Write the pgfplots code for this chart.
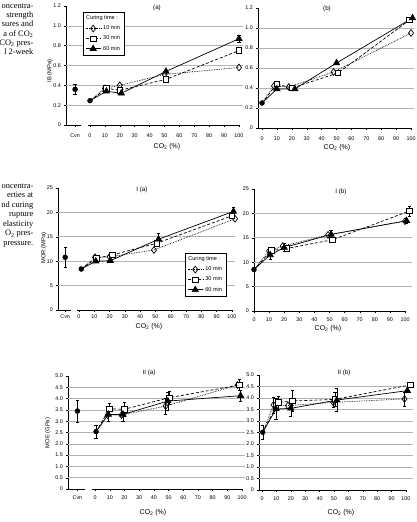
\documentclass[border=0pt]{standalone}
\usepackage{fontspec}
\setmainfont{Liberation Sans}
\newfontfamily\capfont{Liberation Serif}
\usepackage{pgfplots}
\pgfplotsset{compat=1.18}
\pgfplotsset{
  panel/.style={scale only axis, axis lines*=left, x axis line style={draw=none},
    y axis line style={line width=0.5pt}, clip=false,
    tick label style={font=\fontsize{5.4}{6}\selectfont},
    /pgf/number format/assume math mode=true,
    tick align=outside, major tick length=1.6pt, tick style={black, line width=0.4pt},
    extra y tick labels={},
    extra y tick style={grid=major, major tick length=0pt},
    major grid style={gray!60, line width=0.6pt},
    xtick pos=bottom, ytick pos=left,
    error bars/y dir=both, error bars/y explicit,
    error bars/error bar style={solid, black, line width=0.4pt},
    error bars/error mark options={rotate=90, mark size=1.6pt, solid, black, line width=0.4pt},
    legend image code/.code={\draw[mark repeat=2,mark phase=2] plot coordinates {(0cm,0cm)(0.27cm,0cm)(0.54cm,0cm)};},
  },
  s10/.style={black, line width=0.7pt, densely dotted, mark=diamond, mark size=3.4pt,
    mark options={solid, fill=white, line width=0.7pt}, mark phase=2},
  s30/.style={black, line width=0.7pt, dash pattern=on 3pt off 2pt, mark=square*, mark size=2.8pt,
    mark options={solid, fill=white, line width=0.7pt}, mark phase=2},
  s60/.style={black, line width=0.7pt, solid, mark=triangle*, mark size=3.6pt,
    mark options={solid, fill=black}, mark phase=2},
  sc/.style={black, only marks, mark=*, mark size=2.5pt, forget plot},
  leg/.style={legend style={draw=black, line width=0.4pt, font=\fontsize{5.6}{6.4}\selectfont,
    inner xsep=2pt, inner ysep=1.5pt, row sep=0.6pt, cells={anchor=west}}, legend cell align=left},
}
\begin{document}
\begin{tikzpicture}
\useasboundingbox (0,0) rectangle (417bp,522bp);
% caption fragments
\begin{scope}[every node/.style={anchor=base east, inner sep=0pt, font=\capfont\fontsize{8.4}{9}\selectfont}]
\node at (33.5bp,513.5bp) {oncentra-};
\node at (33.5bp,504.3bp) {strength};
\node at (33.5bp,495.1bp) {sures and};
\node at (33.5bp,485.9bp) {a of CO\textsubscript{2}};
\node at (33.5bp,476.7bp) {CO\textsubscript{2} pres-};
\node at (33.5bp,467.5bp) {l 2-week};
\node at (33.5bp,333.5bp) {oncentra-};
\node at (33.5bp,324bp) {erties at};
\node at (33.5bp,314.5bp) {nd curing};
\node at (33.5bp,305bp) {rupture};
\node at (33.5bp,295.5bp) {elasticity};
\node at (33.5bp,286bp) {O\textsubscript{2} pres-};
\node at (33.5bp,276.5bp) {pressure.};
\end{scope}
% titles and labels
\begin{scope}[every node/.style={inner sep=0pt}]
\node[font=\fontsize{6.3}{7}\selectfont] at (157bp,514bp) {(a)};
\node[font=\fontsize{6.3}{7}\selectfont] at (327bp,513bp) {(b)};
\node[font=\fontsize{6.3}{7}\selectfont] at (142bp,332bp) {I (a)};
\node[font=\fontsize{6.3}{7}\selectfont] at (341bp,330bp) {I (b)};
\node[font=\fontsize{6.3}{7}\selectfont] at (149bp,149bp) {II (a)};
\node[font=\fontsize{6.3}{7}\selectfont] at (344bp,149bp) {II (b)};
\node[font=\fontsize{7}{8}\selectfont] at (167bp,375bp) {CO\textsubscript{2} (\%)};
\node[font=\fontsize{7}{8}\selectfont] at (337bp,374bp) {CO\textsubscript{2} (\%)};
\node[font=\fontsize{7}{8}\selectfont] at (149bp,195.5bp) {CO\textsubscript{2} (\%)};
\node[font=\fontsize{7}{8}\selectfont] at (328bp,193.5bp) {CO\textsubscript{2} (\%)};
\node[font=\fontsize{7}{8}\selectfont] at (153bp,9bp) {CO\textsubscript{2} (\%)};
\node[font=\fontsize{7}{8}\selectfont] at (341bp,9bp) {CO\textsubscript{2} (\%)};
\node[font=\fontsize{5.8}{7}\selectfont, rotate=90] at (50bp,451bp) {IB (MPa)};
\node[font=\fontsize{5.8}{7}\selectfont, rotate=90] at (44bp,274bp) {MOR (MPa)};
\node[font=\fontsize{5.8}{7}\selectfont, rotate=90] at (48bp,89bp) {MOE (GPa)};
\end{scope}

% ---------- IB (a)
\begin{axis}[panel, leg, at={(66bp,397bp)}, anchor=south west, width=177bp, height=119bp,
  xticklabel style={yshift=-4pt},
  xmin=-16.1, xmax=102.7, ymin=0, ymax=1.2,
  xtick={-10,0,10,20,30,40,50,60,70,80,90,100},
  xticklabels={Cvn,0,10,20,30,40,50,60,70,80,90,100},
  ytick={0,0.2,0.4,0.6,0.8,1.0,1.2}, yticklabels={0,0.2,0.4,0.6,0.8,1.0,1.2},
  extra y ticks={0.2,0.4,0.6,0.8,1.0},
  legend style={at={(0.096,0.95)}, anchor=north west}]
\draw[line width=0.5pt] (axis cs:-16.1,0) -- (axis cs:-6,0);
\draw[line width=0.5pt] (axis cs:-1.5,0) -- (axis cs:100,0);
\addlegendimage{empty legend}
\addlegendentry{\hspace*{-17pt}Curing time :}
\addplot[sc] coordinates {(-10,0.36) +- (0,0.05) (0,0.245) +- (0,0)};
\addplot[s10] coordinates {(0,0.245) (10,0.37) (20,0.40) (50,0.51) (100,0.58)};
\addlegendentry{10 min}
\addplot[s30] coordinates {(0,0.245) (11,0.37) (20,0.35) (51,0.46) (100,0.75)};
\addlegendentry{30 min}
\addplot[s60] coordinates {(0,0.245) (11,0.34) (21,0.32) (51,0.54) (100,0.87) +- (0,0.04)};
\addlegendentry{60 min}
\end{axis}

% ---------- IB (b)
\begin{axis}[panel, at={(258bp,394bp)}, anchor=south west, width=156bp, height=120bp,
  xticklabel style={yshift=-3.5pt},
  xmin=-2.7, xmax=102, ymin=0, ymax=1.2,
  xtick={0,10,20,30,40,50,60,70,80,90,100},
  ytick={0,0.2,0.4,0.6,0.8,1.0,1.2}, yticklabels={0,0.2,0.4,0.6,0.8,1.0,1.2},
  extra y ticks={0.2,0.4,0.6,0.8,1.0}]
\draw[line width=0.5pt] (axis cs:-2.7,0) -- (axis cs:100,0);
\addplot[sc] coordinates {(0,0.25) +- (0,0)};
\addplot[s10] coordinates {(0,0.25) (8,0.42) (18,0.41) (48,0.56) (100,0.95)};
\addplot[s30] coordinates {(0,0.25) (10,0.44) (20,0.40) (51,0.55) (99,1.08)};
\addplot[s60] coordinates {(0,0.25) (10,0.39) (22,0.39) (50,0.65) (101,1.10)};
\end{axis}

% ---------- MOR I (a)
\begin{axis}[panel, leg, at={(58bp,212bp)}, anchor=south west, width=177bp, height=122bp,
  xticklabel style={yshift=0pt},
  xmin=-13.7, xmax=102, ymin=0, ymax=25,
  xtick={-9,0,10,20,30,40,50,60,70,80,90,100},
  xticklabels={Cvn,0,10,20,30,40,50,60,70,80,90,100},
  ytick={0,5,10,15,20,25},
  extra y ticks={5,10,15,20},
  legend style={at={(0.718,0.467)}, anchor=north west}]
\draw[line width=0.5pt] (axis cs:-13.7,0) -- (axis cs:-5,0);
\draw[line width=0.5pt] (axis cs:-1,0) -- (axis cs:100,0);
\addlegendimage{empty legend}
\addlegendentry{\hspace*{-17pt}Curing time :}
\addplot[sc] coordinates {(-9,10.8) +- (0,2.0) (1.5,8.4) +- (0,0)};
\addplot[s10] coordinates {(1.5,8.4) (10.5,10.8) (20,10.9) (49,12.3) (102,18.7)};
\addlegendentry{10 min}
\addplot[s30] coordinates {(1.5,8.4) (11.5,10.6) (22,11.3) +- (0,0.5) (51,13.7) (100,19.3)};
\addlegendentry{30 min}
\addplot[s60] coordinates {(1.5,8.4) (11,10.0) (20.5,10.1) (52,14.5) +- (0,1.3) (101,20.2) +- (0,0.8)};
\addlegendentry{60 min}
\end{axis}

% ---------- MOR I (b)
\begin{axis}[panel, at={(254bp,211bp)}, anchor=south west, width=158bp, height=122bp,
  xticklabel style={yshift=-1.5pt},
  xmin=0, xmax=104.6, ymin=0, ymax=25,
  xtick={0,10,20,30,40,50,60,70,80,90,100},
  ytick={0,5,10,15,20,25},
  extra y ticks={5,10,15,20}]
\draw[line width=0.5pt] (axis cs:0,0) -- (axis cs:100,0);
\addplot[sc] coordinates {(0,8.5) +- (0,0)};
\addplot[s10] coordinates {(0,8.5) (10,12.3) (19,13.3) (49,15.6) (100,18.4)};
\addplot[s30] coordinates {(0,8.5) (11.5,12.4) (21.7,12.8) (52,14.6) (103,20.5) +- (0,1.0)};
\addplot[s60] coordinates {(0,8.5) (10.7,11.5) +- (0,0.8) (20,13.0) +- (0,0.8) (51,15.7) +- (0,0.8) (101,18.5) +- (0,0.5)};
\end{axis}

% ---------- MOE II (a)
\begin{axis}[panel, at={(68bp,33bp)}, anchor=south west, width=177bp, height=113bp,
  xticklabel style={yshift=-2pt},
  xmin=-18.4, xmax=102, ymin=0, ymax=5,
  xtick={-12,0,10,20,30,40,50,60,70,80,90,100},
  xticklabels={Cvn,0,10,20,30,40,50,60,70,80,90,100},
  ytick={0,0.5,1,1.5,2,2.5,3,3.5,4,4.5,5},
  yticklabels={0,0.5,1.0,1.5,2.0,2.5,3.0,3.5,4.0,4.5,5.0},
  extra y ticks={0.5,1,1.5,2,2.5,3,3.5,4,4.5}]
\draw[line width=0.5pt] (axis cs:-18.4,0) -- (axis cs:-7,0);
\draw[line width=0.5pt] (axis cs:-2,0) -- (axis cs:100,0);
\addplot[sc] coordinates {(-12,3.45) +- (0,0.5) (0.7,2.54) +- (0,0.3)};
\addplot[s10] coordinates {(0.7,2.54) (8.6,3.27) (18,3.27) (48,3.67) +- (0,0.35) (97,4.60)};
\addplot[s30] coordinates {(0.7,2.54) (9.7,3.54) +- (0,0.25) (20,3.53) +- (0,0.3) (50.5,4.04) +- (0,0.3) (98,4.60) +- (0,0.25)};
\addplot[s60] coordinates {(0.7,2.54) (9,3.30) +- (0,0.3) (19,3.30) +- (0,0.3) (49.5,3.89) +- (0,0.4) (99,4.13) +- (0,0.25)};
\end{axis}

% ---------- MOE II (b)
\begin{axis}[panel, at={(259bp,32bp)}, anchor=south west, width=154bp, height=115bp,
  xticklabel style={yshift=-2pt},
  xmin=-2.1, xmax=104.9, ymin=0, ymax=5,
  xtick={0,10,20,30,40,50,60,70,80,90,100},
  ytick={0,0.5,1,1.5,2,2.5,3,3.5,4,4.5,5},
  yticklabels={0,0.5,1.0,1.5,2.0,2.5,3.0,3.5,4.0,4.5,5.0},
  extra y ticks={0.5,1,1.5,2,2.5,3,3.5,4,4.5}]
\draw[line width=0.5pt] (axis cs:-2.1,0) -- (axis cs:100,0);
\addplot[sc] coordinates {(0.5,2.51) +- (0,0.3)};
\addplot[s10] coordinates {(0.5,2.51) (8,3.70) +- (0,0.35) (18,3.67) (49.5,3.81) +- (0,0.2) (99,3.96) +- (0,0.3)};
\addplot[s30] coordinates {(0.5,2.51) (11.3,3.80) +- (0,0.3) (21,3.87) +- (0,0.45) (50.7,3.94) +- (0,0.3) (103,4.57)};
\addplot[s60] coordinates {(0.5,2.51) (9.7,3.52) +- (0,0.45) (20,3.55) +- (0,0.35) (52,3.91) +- (0,0.5) (101,4.32)};
\end{axis}
\end{tikzpicture}
\end{document}
